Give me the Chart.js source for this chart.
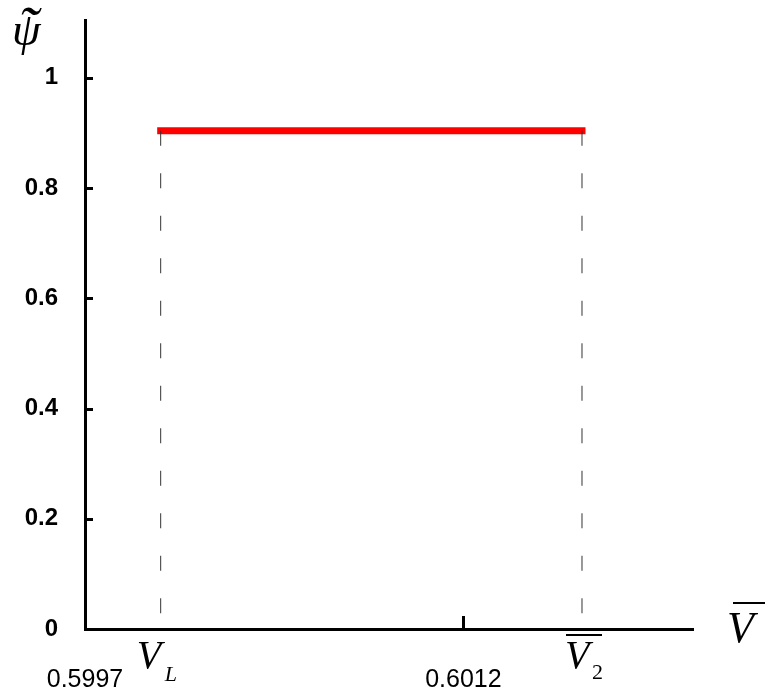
<!DOCTYPE html>
<html>
<head>
<meta charset="utf-8">
<script src="https://cdn.jsdelivr.net/npm/chart.js@4.4.1/dist/chart.umd.min.js"></script>
<style>
  html, body { margin: 0; padding: 0; background: #fff; }
  #wrap { width: 765px; height: 693px; }
</style>
</head>
<body>
<div id="wrap"><canvas id="c" width="765" height="693"></canvas></div>
<script>
// axis ranges / ticks
const X_MIN = 0.5997;
const X_MAX = 0.60211;
const Y_MIN = 0;
const Y_MAX = 1.105;
const X_TICKS = [0.5997, 0.6012];
const Y_TICKS = [0, 0.2, 0.4, 0.6, 0.8, 1];

// the flat segment between V_L and V_2
const V_L = 0.6000;
const V_2 = 0.60167;
const PSI_X = [V_L, V_2];
const PSI_Y = [0.904, 0.904];

const seg = PSI_X.map((x, i) => ({ x, y: PSI_Y[i] }));
const dropL = [{ x: V_L, y: PSI_Y[0] }, { x: V_L, y: 0 }];
const drop2 = [{ x: V_2, y: PSI_Y[1] }, { x: V_2, y: 0 }];

// keep the plot box fixed, no label-driven padding
function noPad(s) { s.paddingTop = 0; s.paddingBottom = 0; s.paddingLeft = 0; s.paddingRight = 0; }

// tick marks drawn inside the plot + math labels
const decorations = {
  id: "decorations",
  afterDraw(chart) {
    const ctx = chart.ctx;
    const xs = chart.scales.x, ys = chart.scales.y;
    const left = chart.chartArea.left, bottom = chart.chartArea.bottom;
    ctx.save();
    ctx.strokeStyle = "#000";
    ctx.lineWidth = 3;
    Y_TICKS.forEach(v => {
      if (v === 0) return;
      const y = Math.round(ys.getPixelForValue(v)) + 0.5;
      ctx.beginPath(); ctx.moveTo(left, y); ctx.lineTo(left + 8, y); ctx.stroke();
    });
    X_TICKS.forEach(v => {
      if (v === X_MIN) return;
      const x = Math.round(xs.getPixelForValue(v)) + 0.5;
      ctx.beginPath(); ctx.moveTo(x, bottom); ctx.lineTo(x, bottom - 13); ctx.stroke();
    });

    ctx.fillStyle = "#000";
    ctx.textBaseline = "alphabetic";
    ctx.textAlign = "left";
    // psi with tilde (tilde centred around y=11)
    ctx.font = 'italic 46px "Liberation Serif"';
    ctx.fillText("\u03C8", 12, 45);
    ctx.font = 'italic 60px "Liberation Serif"';
    const m = ctx.measureText("\u02DC");
    const mid = (m.actualBoundingBoxAscent - m.actualBoundingBoxDescent) / 2;
    ctx.fillText("\u02DC", 18, 11 + mid);
    // V_L
    const xl = xs.getPixelForValue(V_L);
    ctx.font = 'italic 40px "Liberation Serif"';
    ctx.fillText("V", xl - 24, 668);
    ctx.font = 'italic 22px "Liberation Serif"';
    ctx.fillText("L", xl + 4, 681);
    // V bar 2
    const x2 = xs.getPixelForValue(V_2);
    ctx.font = 'italic 40px "Liberation Serif"';
    ctx.fillText("V", x2 - 17, 668);
    ctx.font = '22px "Liberation Serif"';
    ctx.fillText("2", x2 + 10, 679);
    ctx.lineWidth = 2;
    ctx.beginPath(); ctx.moveTo(x2 - 16, 635); ctx.lineTo(x2 + 20, 635); ctx.stroke();
    // V bar (axis title)
    ctx.font = 'italic 44px "Liberation Serif"';
    ctx.fillText("V", 727, 642);
    ctx.beginPath(); ctx.moveTo(733, 603); ctx.lineTo(765, 603); ctx.stroke();
    ctx.restore();
  }
};

new Chart(document.getElementById("c"), {
  type: "line",
  data: {
    datasets: [
      { data: dropL, borderColor: "#333", borderWidth: 1, borderDash: [15, 27.5], pointRadius: 0 },
      { data: drop2, borderColor: "#333", borderWidth: 1, borderDash: [15, 27.5], pointRadius: 0 },
      { data: seg, borderColor: "#ff0000", borderWidth: 7, borderCapStyle: "square", pointRadius: 0 },
    ]
  },
  options: {
    responsive: false,
    animation: false,
    layout: { padding: { left: 0, top: 20, right: 72, bottom: 0 } },
    plugins: { legend: { display: false }, tooltip: { enabled: false } },
    scales: {
      x: {
        type: "linear", min: X_MIN, max: X_MAX,
        afterBuildTicks: s => { s.ticks = X_TICKS.map(v => ({ value: v })); },
        afterFit: s => { s.height = 64; noPad(s); },
        grid: { display: false, drawTicks: false },
        border: { display: true, color: "#000", width: 3 },
        ticks: {
          color: "#000", padding: 36, maxRotation: 0, autoSkip: false,
          font: { family: "Liberation Sans", size: 25 },
          callback: v => Number(v).toFixed(4)
        }
      },
      y: {
        type: "linear", min: Y_MIN, max: Y_MAX,
        afterBuildTicks: s => { s.ticks = Y_TICKS.map(v => ({ value: v })); },
        afterFit: s => { s.width = 85; noPad(s); },
        grid: { display: false, drawTicks: false },
        border: { display: true, color: "#000", width: 3 },
        ticks: {
          color: "#000", padding: 27, autoSkip: false,
          font: { family: "Liberation Sans", size: 24, weight: "bold" },
          callback: v => String(+Number(v).toFixed(1))
        }
      }
    }
  },
  plugins: [decorations]
});
</script>
</body>
</html>
